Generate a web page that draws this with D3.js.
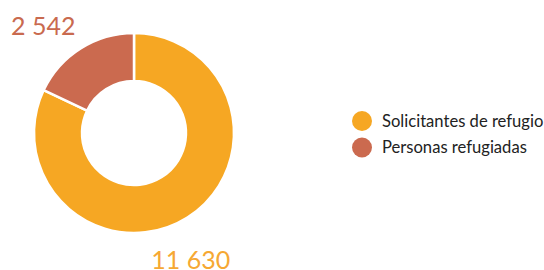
<!DOCTYPE html>
<html><head><meta charset="utf-8">
<script src="https://cdn.jsdelivr.net/npm/d3@7"></script>
<style>body{margin:0;background:#fff;} svg{display:block;font-family:Lato, sans-serif;}</style>
</head><body>
<svg id="chart" width="544" height="270"></svg>
<script>
const categories = ["Solicitantes de refugio", "Personas refugiadas"];
const values = [11630, 2542];
const valueLabels = ["11 630", "2 542"];
const colors = ["#F6A723", "#CB6A4F"];

const svg = d3.select("#chart");
const cx = 134, cy = 133, R = 100, r0 = 52;
const pie = d3.pie().sort(null).value(d => d);
const arcs = pie(values);
const arc = d3.arc().innerRadius(r0).outerRadius(R);
const g = svg.append("g").attr("transform", `translate(${cx},${cy})`);
g.selectAll("path").data(arcs).join("path")
  .attr("d", arc)
  .attr("fill", (d, i) => colors[i])
  .attr("stroke", "#fff").attr("stroke-width", 2.5).attr("stroke-linejoin", "round");

const labelR = 138;
g.selectAll("text.val").data(arcs).join("text").attr("class", "val")
  .attr("x", d => { const a = (d.startAngle + d.endAngle) / 2; return -17 + labelR * Math.sin(a); })
  .attr("y", d => { const a = (d.startAngle + d.endAngle) / 2; return 9 - labelR * Math.cos(a); })
  .attr("text-anchor", "middle").attr("dominant-baseline", "central")
  .attr("font-size", 25)
  .attr("fill", (d, i) => i === 0 ? "#F6A833" : "#C96A4F")
  .text((d, i) => valueLabels[i]);

const leg = svg.append("g").attr("transform", "translate(362,121)");
const items = leg.selectAll("g").data(categories).join("g")
  .attr("transform", (d, i) => `translate(0,${i * 26.5})`);
items.append("circle").attr("r", 10).attr("fill", (d, i) => colors[i]);
items.append("text").attr("x", 20).attr("dy", "0.35em")
  .attr("font-size", 16.6).attr("fill", "#222").text(d => d);
</script>
</body></html>
